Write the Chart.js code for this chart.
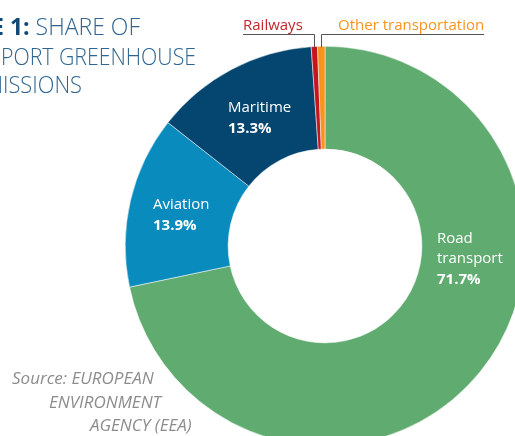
<!DOCTYPE html>
<html>
<head>
<meta charset="utf-8">
<script src="https://cdn.jsdelivr.net/npm/chart.js@4/dist/chart.umd.min.js"></script>
<style>
  html, body { margin: 0; padding: 0; background: #fff; overflow: hidden; width: 515px; height: 436px; }
  canvas { position: absolute; left: 0; top: 0; }
</style>
</head>
<body>
<canvas id="donut" width="525" height="446"></canvas>
<script>
// data (share of transport GHG emissions, %)
const categories = ['Road transport', 'Aviation', 'Maritime', 'Railways', 'Other transportation'];
const shares = [71.7, 13.9, 13.3, 0.5, 0.6];
const sliceColors = ['#60ab70', '#0a8bbd', '#04466f', '#c3161f', '#f7931e'];

// text inside the ring
const insideNames = [['Road', 'transport'], ['Aviation'], ['Maritime']];
const insideAt = [[437, 243], [153, 209], [228, 112]];
// leader labels above the ring
const outsideLabels = [
  { idx: 3, text: 'Railways', color: '#c1272d', x: 243, side: 'left' },
  { idx: 4, text: 'Other transportation', color: '#f7941d', x: 338, side: 'right' }
];

const FONT = '"Open Sans", "Noto Sans", sans-serif';

// draw right-aligned text, squeezed so that the visible tail has the given width
function fitRight(ctx, full, tail, right, y, tailWidth) {
  const s = tailWidth / ctx.measureText(tail).width;
  ctx.save();
  ctx.translate(right, y);
  ctx.scale(s, 1);
  ctx.textAlign = 'right';
  ctx.fillText(full, 0, 0);
  ctx.restore();
}

const textPlugin = {
  id: 'figText',
  afterDraw(chart) {
    const ctx = chart.ctx;
    ctx.save();
    ctx.textBaseline = 'alphabetic';

    // title (cropped on the left, as in the figure)
    ctx.textAlign = 'right';
    ctx.font = '300 23px ' + FONT;
    ctx.fillStyle = '#2f6591';
    ctx.fillText('SHARE OF', 140, 35);
    const w1 = ctx.measureText('SHARE OF').width;
    ctx.font = '700 23px ' + FONT;
    ctx.fillStyle = '#0d4877';
    ctx.fillText('FIGURE 1:', 140 - w1 - 6, 35);
    ctx.font = '300 23px ' + FONT;
    ctx.fillStyle = '#2f6591';
    fitRight(ctx, 'TRANSPORT GREENHOUSE', 'PORT GREENHOUSE', 196, 65, 195);
    fitRight(ctx, 'EMISSIONS', 'ISSIONS', 82, 93, 79);

    // source
    ctx.textAlign = 'left';
    ctx.font = 'italic 17px ' + FONT;
    ctx.fillStyle = '#8c8c8c';
    ctx.fillText('Source: EUROPEAN', 12, 384);
    ctx.fillText('ENVIRONMENT', 49, 408);
    ctx.fillText('AGENCY (EEA)', 90, 431);

    // labels inside the slices
    ctx.fillStyle = '#ffffff';
    insideNames.forEach((lines, i) => {
      const [x, y] = insideAt[i];
      ctx.font = '400 15px ' + FONT;
      lines.forEach((t, k) => ctx.fillText(t, x, y + k * 20));
      ctx.font = '700 15px ' + FONT;
      ctx.fillText(shares[i] + '%', x, y + lines.length * 20 + 1);
    });

    // leader labels for the thin slices
    const meta = chart.getDatasetMeta(0);
    outsideLabels.forEach(l => {
      const arc = meta.data[l.idx];
      const p = arc.getProps(['x', 'y', 'startAngle', 'endAngle', 'outerRadius'], true);
      const mid = (p.startAngle + p.endAngle) / 2;
      const ex = p.x + Math.cos(mid) * p.outerRadius;
      const ey = p.y + Math.sin(mid) * p.outerRadius;
      ctx.font = '400 15px ' + FONT;
      ctx.fillStyle = l.color;
      ctx.textAlign = 'left';
      ctx.fillText(l.text, l.x, 30);
      const tw = ctx.measureText(l.text).width;
      ctx.strokeStyle = '#555';
      ctx.lineWidth = 1;
      ctx.beginPath();
      const lx = Math.round(ex) + 0.5;
      if (l.side === 'left') {
        ctx.moveTo(l.x, 34.5);
        ctx.lineTo(lx, 34.5);
      } else {
        ctx.moveTo(l.x + tw, 34.5);
        ctx.lineTo(lx, 34.5);
      }
      ctx.lineTo(lx, ey + 1);
      ctx.stroke();
    });
    ctx.restore();
  }
};

new Chart(document.getElementById('donut'), {
  type: 'doughnut',
  data: {
    labels: categories,
    datasets: [{
      data: shares,
      backgroundColor: sliceColors,
      borderColor: '#ffffff',
      borderWidth: 0.5
    }]
  },
  options: {
    responsive: false,
    animation: false,
    cutout: '48.5%',
    layout: { padding: { left: 125, top: 46, right: 0, bottom: 0 } },
    plugins: { legend: { display: false }, tooltip: { enabled: false } }
  },
  plugins: [textPlugin]
});
</script>
</body>
</html>
